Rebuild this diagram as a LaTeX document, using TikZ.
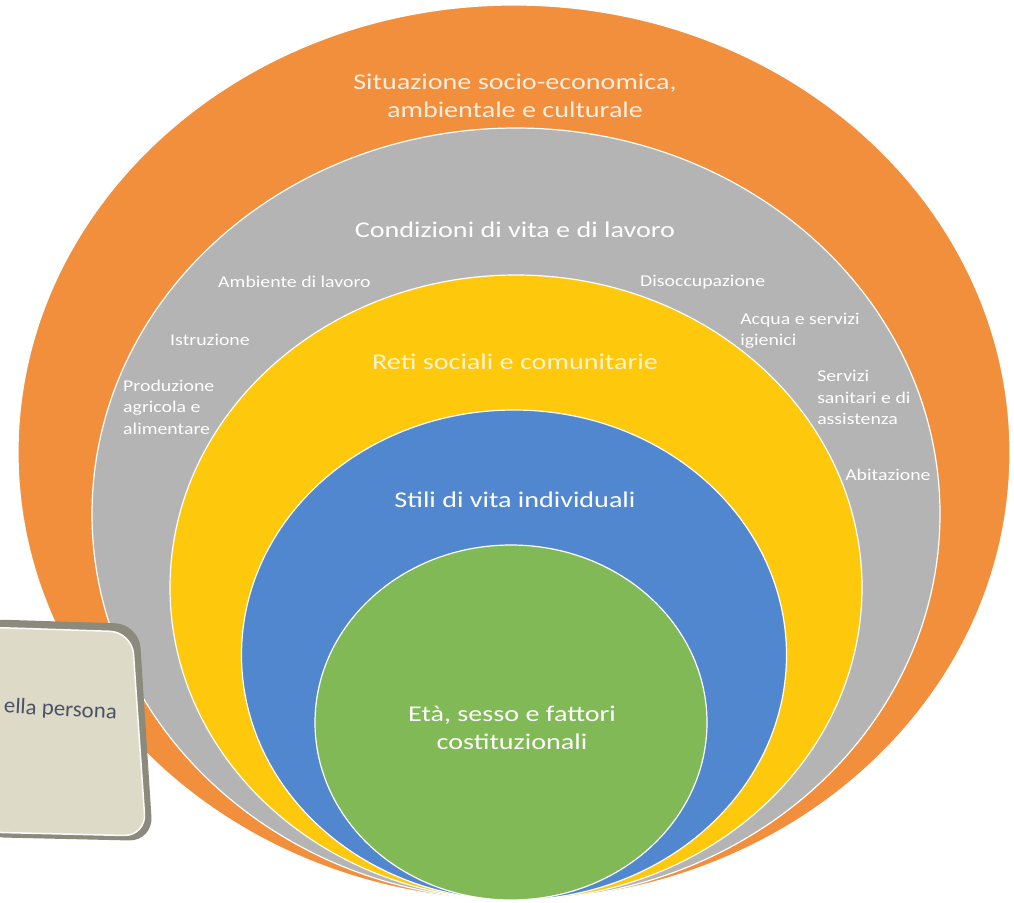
\documentclass[tikz,border=0pt]{standalone}
\usepackage{fontspec}
\setmainfont{Carlito}
\usetikzlibrary{shapes.geometric}
\definecolor{corange}{HTML}{F28F3C}
\definecolor{cgray}{HTML}{B4B4B4}
\definecolor{cyellow}{HTML}{FEC80C}
\definecolor{cblue}{HTML}{5087CF}
\definecolor{cgreen}{HTML}{80B956}
\definecolor{cream}{HTML}{FDEEDF}
\definecolor{yelltext}{HTML}{FFF4D0}
\definecolor{boxfill}{HTML}{DEDAC8}
\definecolor{boxshadow}{HTML}{8C8A7C}
\definecolor{boxtext}{HTML}{4A5366}
\begin{document}
\begin{tikzpicture}[x=1pt,y=-1pt,
  ring/.style={ellipse, draw=white, line width=1.2pt, inner sep=0pt},
  big/.style={font=\fontsize{22.5}{27.5}\selectfont, align=center, text=white, inner sep=0pt, xscale=1.25},
  small/.style={font=\fontsize{16.5}{21.5}\selectfont, align=left, text=white, anchor=west, inner sep=0pt, xscale=1.2}]
\useasboundingbox (0,0) rectangle (1014,902);
% rings
\node[ring, fill=corange, minimum width=992pt, minimum height=895pt] (orange) at (514,452.5) {};
\node[ring, fill=cgray, minimum width=848pt, minimum height=772pt] (gray) at (516,514) {};
\node[ring, fill=cyellow, minimum width=692pt, minimum height=625pt] (yellow) at (516,587.5) {};
\node[ring, fill=cblue, minimum width=545pt, minimum height=490pt] (blue) at (514,655) {};
\node[ring, fill=cgreen, minimum width=392pt, minimum height=355pt] (green) at (511,722.5) {};
% main labels
\node[big, text=cream] (tOrange) at (515,96) {Situazione socio-economica,\\ambientale e culturale};
\node[big] (tGray) at (515,230) {Condizioni di vita e di lavoro};
\node[big, text=yelltext] (tYellow) at (515,362) {Reti sociali e comunitarie};
\node[big] (tBlue) at (515,500) {Stili di vita individuali};
\node[big] (tGreen) at (512,728) {Età, sesso e fattori\\costituzionali};
% small labels
\node[small] (l1) at (218,282) {Ambiente di lavoro};
\node[small] (l2) at (170,340) {Istruzione};
\node[small] (l3) at (123,407) {Produzione\\agricola e\\alimentare};
\node[small] (r1) at (640,282) {Disoccupazione};
\node[small] (r2) at (740,330.5) {Acqua e servizi\\igienici};
\node[small] (r3) at (817,397.5) {Servizi\\sanitari e di\\assistenza};
\node[small] (r4) at (845,475) {Abitazione};
% box
\fill[boxshadow, rounded corners=24pt] (-20,619) -- (139,624) -- (153,841) -- (-20,837) -- cycle;
\fill[boxfill, draw=white!90!boxfill, line width=1.5pt, rounded corners=22pt] (-20,627) -- (132,632) -- (146,836) -- (-20,832) -- cycle;
\node[font=\fontsize{22}{26}\selectfont, text=boxtext, anchor=east, rotate=-3, xscale=1.04, inner sep=0pt] (boxlabel) at (117,713) {ella persona};
\end{tikzpicture}
\end{document}
